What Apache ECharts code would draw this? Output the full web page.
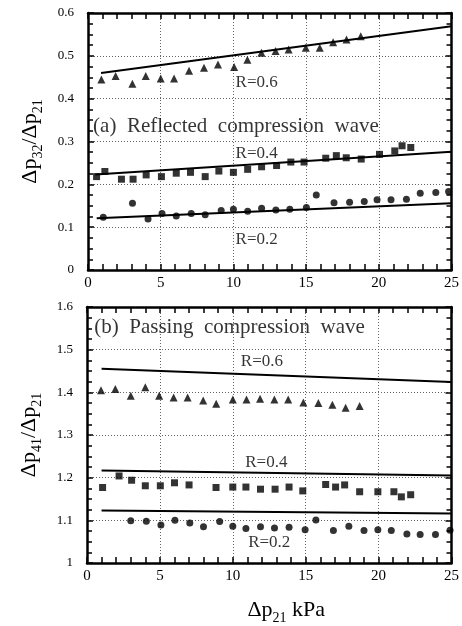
<!DOCTYPE html>
<html>
<head>
<meta charset="utf-8">
<script src="https://cdn.jsdelivr.net/npm/echarts@6/dist/echarts.min.js"></script>
<style>
html, body { margin: 0; padding: 0; background: #fff; }
#chart { width: 462px; height: 626px; }
</style>
</head>
<body>
<div id="chart"></div>
<script>
"use strict";
// (a) reflected wave, dp32/dp21
const reflR06 = [[0.92, 0.445], [1.9, 0.453], [3.05, 0.435], [3.97, 0.453], [5.0, 0.447], [5.92, 0.447],
    [6.95, 0.465], [7.98, 0.472], [8.94, 0.48], [10.05, 0.474], [10.96, 0.491], [11.93, 0.507], [12.9, 0.511],
    [13.8, 0.515], [14.98, 0.519], [15.94, 0.519], [16.86, 0.532], [17.78, 0.538], [18.76, 0.546]];
const reflR04 = [[0.59, 0.218], [1.16, 0.23], [2.3, 0.212], [3.1, 0.212], [4.0, 0.222], [5.05, 0.218],
    [6.07, 0.226], [7.05, 0.228], [8.06, 0.218], [9.0, 0.231], [10.0, 0.228], [10.98, 0.235], [11.94, 0.241],
    [12.97, 0.244], [13.95, 0.252], [14.86, 0.252], [16.35, 0.261], [17.08, 0.267], [17.76, 0.262],
    [18.79, 0.259], [20.05, 0.27], [21.1, 0.278], [21.6, 0.29], [22.2, 0.286]];
const reflR02 = [[1.05, 0.123], [3.06, 0.156], [4.13, 0.119], [5.09, 0.132], [6.07, 0.126], [7.1, 0.132],
    [8.06, 0.129], [9.16, 0.139], [10.0, 0.142], [10.98, 0.137], [11.94, 0.144], [12.92, 0.14], [13.88, 0.142],
    [15.02, 0.146], [15.7, 0.175], [16.92, 0.157], [17.99, 0.158], [19.0, 0.16], [19.88, 0.164], [20.84, 0.164],
    [21.9, 0.165], [22.85, 0.179], [23.92, 0.181], [24.8, 0.183]];
const reflFit06 = [[0.9, 0.46], [25, 0.569]];
const reflFit04 = [[0.5, 0.223], [25, 0.276]];
const reflFit02 = [[0.6, 0.121], [25, 0.156]];

// (b) passing wave, dp41/dp21
const passR06 = [[0.96, 1.405], [1.94, 1.408], [3.0, 1.392], [4.0, 1.412], [4.95, 1.392], [5.94, 1.388],
    [6.9, 1.388], [7.97, 1.381], [8.86, 1.373], [10.0, 1.383], [10.94, 1.383], [11.87, 1.385], [12.85, 1.383],
    [13.8, 1.383], [14.84, 1.376], [15.87, 1.375], [16.83, 1.371], [17.74, 1.364], [18.7, 1.368]];
const passR04 = [[1.07, 1.177], [2.2, 1.204], [3.06, 1.194], [4.0, 1.181], [5.03, 1.181], [6.0, 1.188],
    [7.0, 1.183], [8.85, 1.177], [10.0, 1.178], [10.9, 1.178], [11.9, 1.173], [12.9, 1.173], [13.86, 1.178],
    [14.8, 1.169], [16.37, 1.184], [17.05, 1.178], [17.67, 1.183], [18.7, 1.167], [19.95, 1.167], [21.05, 1.167],
    [21.56, 1.155], [22.2, 1.16]];
const passR02 = [[3.0, 1.099], [4.07, 1.098], [5.07, 1.089], [6.03, 1.1], [7.05, 1.094], [7.99, 1.085],
    [9.1, 1.097], [10.0, 1.086], [10.9, 1.081], [11.9, 1.085], [12.86, 1.082], [13.86, 1.084], [14.96, 1.078],
    [15.7, 1.101], [16.9, 1.076], [17.96, 1.086], [19.0, 1.076], [19.95, 1.078], [20.87, 1.076], [21.94, 1.068],
    [22.85, 1.067], [23.9, 1.067], [24.9, 1.077]];
const passFit06 = [[1, 1.455], [25, 1.424]];
const passFit04 = [[1, 1.217], [25, 1.205]];
const passFit02 = [[1, 1.123], [25, 1.116]];

// text inside the plots: [x, y, text]
const notesA = [[11.6, 0.437, 'R=0.6'], [11.6, 0.273, 'R=0.4'], [11.6, 0.072, 'R=0.2']];
const notesB = [[12.0, 1.472, 'R=0.6'], [12.3, 1.235, 'R=0.4'], [12.5, 1.047, 'R=0.2']];
const titleA = [[0.35, 0.336, '(a)  Reflected  compression  wave']];
const titleB = [[0.5, 1.553, '(b)  Passing  compression  wave']];

const serif = 'Liberation Serif';
const chart = echarts.init(document.getElementById('chart'));

function xAxisFor(gridIndex, pos, main) {
    return {
        type: 'value', gridIndex, position: pos, min: 0, max: 25, interval: 5,
        axisLine: { show: true, onZero: false, lineStyle: { color: '#000', width: 2.5 } },
        axisTick: { show: true, inside: true, length: 6, lineStyle: { color: '#000', width: 1.5 } },
        minorTick: { show: true, splitNumber: 5, length: 6, lineStyle: { color: '#000', width: 1.5 } },
        axisLabel: { show: main, color: '#000', fontFamily: serif, fontSize: 15, margin: 6 },
        splitLine: { show: main, lineStyle: { color: '#666', type: [1, 2], width: 1 } }
    };
}
function yAxisFor(gridIndex, pos, main, min, max) {
    return {
        type: 'value', gridIndex, position: pos, min, max, interval: 0.1,
        axisLine: { show: true, onZero: false, lineStyle: { color: '#000', width: 2.5 } },
        axisTick: { show: true, inside: true, length: 6, lineStyle: { color: '#000', width: 1.5 } },
        minorTick: { show: true, splitNumber: 4, length: 5, lineStyle: { color: '#000', width: 1.5 } },
        axisLabel: { show: main, color: '#000', fontFamily: serif, fontSize: 13, margin: 14 },
        splitLine: { show: main, lineStyle: { color: '#666', type: [1, 2], width: 1 } }
    };
}

const subRich = {
    b: { fontFamily: serif, fontSize: 22, color: '#000', lineHeight: 30, verticalAlign: 'middle' },
    s: { fontFamily: serif, fontSize: 14, color: '#000', lineHeight: 30, verticalAlign: 'bottom' }
};

const xAxes = [xAxisFor(0, 'bottom', true), xAxisFor(0, 'top', false), xAxisFor(1, 'bottom', true), xAxisFor(1, 'top', false)];
xAxes[2].name = '{b|Δp}{s|21}{b| kPa}';
xAxes[2].nameLocation = 'middle';
xAxes[2].nameGap = 32;
xAxes[2].nameTextStyle = { rich: subRich, padding: [0, 0, 0, 34] };

const yAxes = [yAxisFor(0, 'left', true, 0, 0.6), yAxisFor(0, 'right', false, 0, 0.6),
    yAxisFor(1, 'left', true, 1, 1.6), yAxisFor(1, 'right', false, 1, 1.6)];
yAxes[0].name = '{b|Δp}{s|32}{b|/Δp}{s|21}';
yAxes[2].name = '{b|Δp}{s|41}{b|/Δp}{s|21}';
[yAxes[0], yAxes[2]].forEach(ax => {
    ax.nameLocation = 'middle';
    ax.nameRotate = 90;
    ax.nameGap = 43;
    ax.nameTextStyle = { rich: subRich };
});

function marks(data, xi, yi, symbol, size) {
    return { type: 'scatter', xAxisIndex: xi, yAxisIndex: yi, data, symbol, symbolSize: size,
        itemStyle: { color: '#000' }, silent: true };
}
function fit(data, xi, yi) {
    return { type: 'line', xAxisIndex: xi, yAxisIndex: yi, data, symbol: 'none',
        lineStyle: { color: '#000', width: 2 }, silent: true };
}
function notes(data, xi, yi, size, left) {
    return { type: 'scatter', xAxisIndex: xi, yAxisIndex: yi, symbolSize: 0, silent: true,
        data: data.map(d => ({ value: [d[0], d[1]], name: d[2] })),
        label: { show: true, formatter: p => p.name, position: left ? 'right' : 'inside', distance: 0,
            color: '#000', fontFamily: serif, fontSize: size } };
}

chart.setOption({
    animation: false,
    backgroundColor: '#fff',
    grid: [
        { left: 88, right: 9, top: 13, height: 257 },
        { left: 87, right: 10, top: 307, height: 259 }
    ],
    xAxis: xAxes,
    yAxis: yAxes,
    series: [
        fit(reflFit06, 0, 0), fit(reflFit04, 0, 0), fit(reflFit02, 0, 0),
        marks(reflR06, 0, 0, 'triangle', 8), marks(reflR04, 0, 0, 'rect', 7), marks(reflR02, 0, 0, 'circle', 7),
        notes(notesA, 0, 0, 17, false), notes(titleA, 0, 0, 21, true),
        fit(passFit06, 2, 2), fit(passFit04, 2, 2), fit(passFit02, 2, 2),
        marks(passR06, 2, 2, 'triangle', 8), marks(passR04, 2, 2, 'rect', 7), marks(passR02, 2, 2, 'circle', 7),
        notes(notesB, 2, 2, 17, false), notes(titleB, 2, 2, 21, true)
    ]
});
</script>
</body>
</html>
